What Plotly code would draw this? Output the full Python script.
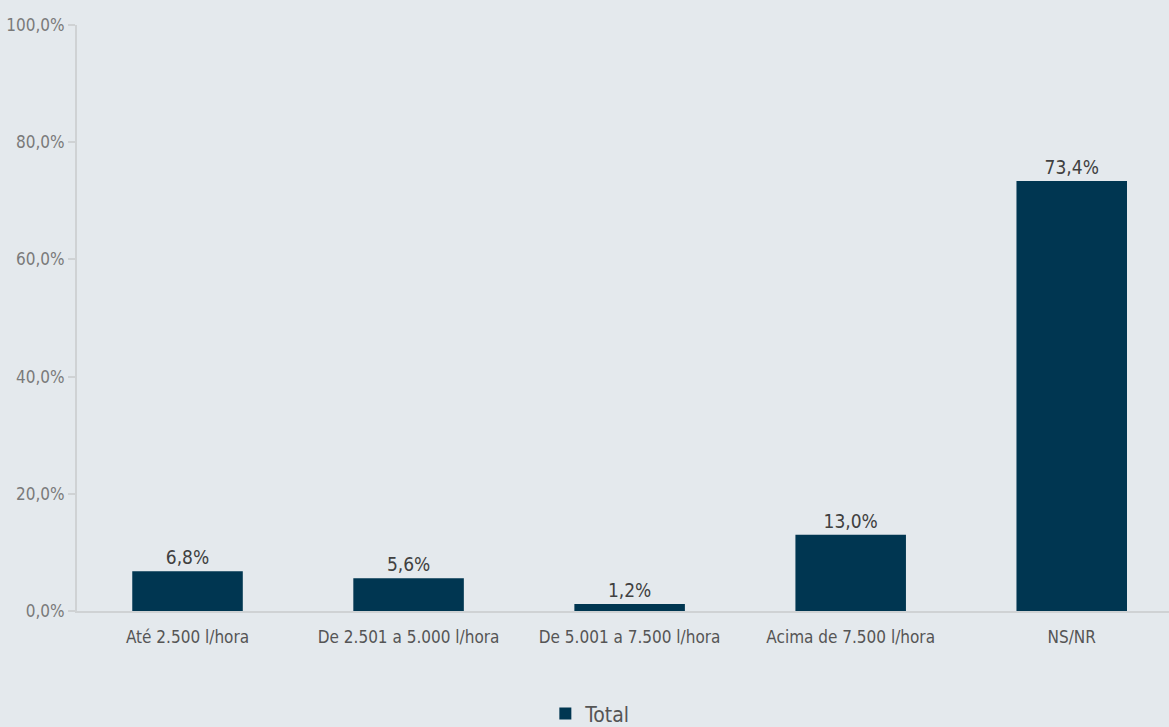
import plotly.graph_objects as go

categories = ["Até 2.500 l/hora", "De 2.501 a 5.000 l/hora", "De 5.001 a 7.500 l/hora",
              "Acima de 7.500 l/hora", "NS/NR"]
values = [6.8, 5.6, 1.2, 13.0, 73.4]
series_name = "Total"
y_ticks = [0, 20, 40, 60, 80, 100]
y_tick_labels = ["0,0%", "20,0%", "40,0%", "60,0%", "80,0%", "100,0%"]

FONT = "DejaVu Sans Condensed, Liberation Sans Narrow, sans-serif"
BG = "#E4E9ED"
BAR = "#003651"

fig = go.Figure()
fig.add_trace(go.Bar(
    x=categories, y=values, name=series_name,
    marker=dict(color=BAR, line=dict(width=0)),
    width=0.5,
    text=values, texttemplate="%{y:.1f}%", textposition="outside",
    textfont=dict(family=FONT, size=19, color="#404040"),
    cliponaxis=False,
    showlegend=True,
))

fig.update_layout(
    width=1169, height=727,
    paper_bgcolor=BG, plot_bgcolor=BG,
    separators=",.",
    margin=dict(l=77, r=0, t=25, b=116, autoexpand=False),
    font=dict(family=FONT, size=16, color="#7a7a7a"),
    uniformtext=dict(minsize=19, mode="show"),
    showlegend=True,
    legend=dict(orientation="h", xref="container", x=0.505, xanchor="center",
                yref="container", y=0.018, yanchor="middle",
                font=dict(family=FONT, size=21, color="#555555"),
                itemwidth=30, bgcolor="rgba(0,0,0,0)"),
    xaxis=dict(showline=True, linecolor="#cfd2d4", linewidth=2, ticks="",
               range=[-0.5, 4.44], ticklabelstandoff=10, tickangle=0,
               automargin=False,
               tickfont=dict(family=FONT, size=17, color="#555555"),
               showgrid=False, zeroline=False),
    yaxis=dict(range=[0, 100], tickmode="array", tickvals=y_ticks, ticktext=y_tick_labels,
               showline=True, linecolor="#cfd2d4", linewidth=2,
               ticks="outside", ticklen=7, tickcolor="#cfd2d4", tickwidth=2,
               showgrid=False, zeroline=False, automargin=False,
               tickfont=dict(family=FONT, size=17, color="#7a7a7a")),
)

fig.write_html("out.html", config={"displayModeBar": False},
               post_script="document.body.style.margin='0';document.body.style.padding='0';")
